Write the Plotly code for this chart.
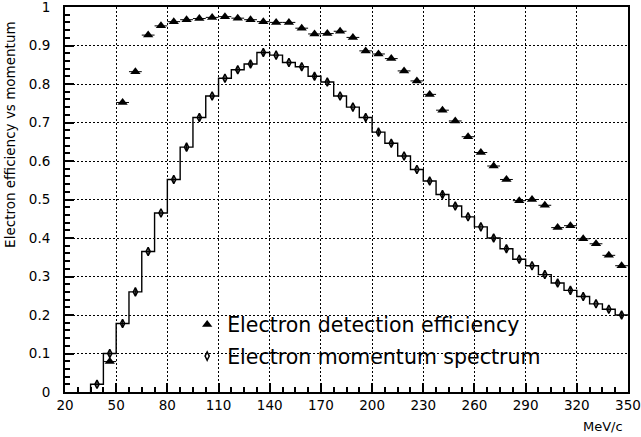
import plotly.graph_objects as go

# ---- data ----
bin_start = 35.0
bin_width = 7.5
spectrum = [0.02, 0.10, 0.178, 0.26, 0.365, 0.465, 0.552, 0.636, 0.713, 0.769,
            0.815, 0.837, 0.852, 0.882, 0.875, 0.856, 0.845, 0.82, 0.805, 0.769,
            0.74, 0.713, 0.675, 0.646, 0.613, 0.578, 0.548, 0.513, 0.483, 0.455,
            0.429, 0.40, 0.372, 0.345, 0.328, 0.305, 0.283, 0.264, 0.248, 0.229,
            0.215, 0.20]
efficiency = [None, 0.079, 0.752, 0.832, 0.927, 0.951, 0.962, 0.967, 0.97, 0.973,
              0.975, 0.971, 0.967, 0.962, 0.96, 0.96, 0.945, 0.93, 0.931, 0.937,
              0.921, 0.886, 0.878, 0.866, 0.834, 0.808, 0.773, 0.732, 0.704, 0.663,
              0.622, 0.587, 0.552, 0.497, 0.50, 0.485, 0.427, 0.432, 0.398, 0.385,
              0.355, 0.328]
x_tickvals = [20, 50, 80, 110, 140, 170, 200, 230, 260, 290, 320, 350]
y_tickvals = [0, 0.1, 0.2, 0.3, 0.4, 0.5, 0.6, 0.7, 0.8, 0.9, 1.0]
y_ticktext = ["0", "0.1", "0.2", "0.3", "0.4", "0.5", "0.6", "0.7", "0.8", "0.9", "1"]
legend_names = ["Electron detection efficiency", "Electron momentum spectrum"]
x_title = "MeV/c"
y_title = "Electron efficiency vs momentum"

n = len(spectrum)
centers = [bin_start + bin_width * (i + 0.5) for i in range(n)]
edges = [bin_start + bin_width * i for i in range(n + 1)]

# step outline of the histogram
step_x = [edges[0]] + edges
step_y = [0] + spectrum + [spectrum[-1]]

fig = go.Figure()
fig.add_trace(go.Scatter(
    x=step_x, y=step_y, mode="lines", line=dict(color="black", width=1.4, shape="hv"),
    showlegend=False, hoverinfo="skip"))
fig.add_trace(go.Scatter(
    x=centers, y=efficiency, mode="markers", name=legend_names[0],
    marker=dict(symbol="triangle-up", size=9, color="black"),
    error_x=dict(type="constant", value=bin_width / 2, color="black", thickness=1, width=0),
    legendgroup="a"))
fig.add_trace(go.Scatter(
    x=centers, y=spectrum, mode="markers", name=legend_names[1],
    marker=dict(symbol="diamond-tall-open", size=6, color="black", line=dict(width=1.5, color="black")),
    error_y=dict(type="constant", value=0.008, color="black", thickness=1, width=0),
    legendgroup="b"))

axis_font = dict(family="DejaVu Sans", size=13.5, color="black")
fig.update_xaxes(
    range=[20, 350], tickmode="array", tickvals=x_tickvals, ticks="inside", ticklen=9,
    tickwidth=1.5, tickcolor="black", showline=True, linecolor="black", linewidth=2,
    mirror=True, showgrid=True, gridcolor="black", griddash="2px,2px", gridwidth=1,
    zeroline=False, tickfont=axis_font, automargin=False, ticklabeloverflow="allow",
    minor=dict(dtick=bin_width, tick0=20, ticks="inside", ticklen=5, tickcolor="black", showgrid=False))
fig.update_yaxes(
    range=[0, 1], tickmode="array", tickvals=y_tickvals, ticktext=y_ticktext, ticks="inside",
    ticklen=9, tickwidth=1.5, tickcolor="black", showline=True, linecolor="black", linewidth=2,
    mirror=True, showgrid=True, gridcolor="black", griddash="2px,2px", gridwidth=1,
    zeroline=False, tickfont=axis_font, ticklabelstandoff=10, automargin=False,
    ticklabeloverflow="allow",
    minor=dict(dtick=0.02, tick0=0, ticks="inside", ticklen=5, tickcolor="black", showgrid=False))

fig.update_layout(
    width=641, height=437,
    margin=dict(l=65, r=13, t=7, b=45, autoexpand=False),
    plot_bgcolor="white", paper_bgcolor="white",
    legend=dict(x=0.217, y=0.227, xanchor="left", yanchor="top", bgcolor="rgba(0,0,0,0)",
                font=dict(family="DejaVu Sans", size=20.5, color="black"),
                traceorder="grouped", tracegroupgap=2, itemwidth=30),
    annotations=[
        dict(text=x_title, xref="paper", yref="paper", x=0.955, y=-0.09, xanchor="center",
             yanchor="middle", showarrow=False, font=dict(family="DejaVu Sans", size=13, color="black")),
        dict(text=y_title, xref="paper", yref="paper", x=-0.098, y=0.67, xanchor="center",
             yanchor="middle", textangle=-90, showarrow=False,
             font=dict(family="DejaVu Sans", size=13.5, color="black")),
    ],
)

fig.write_html("out.html", post_script="document.body.style.margin='0';",
               config={"displayModeBar": False})
